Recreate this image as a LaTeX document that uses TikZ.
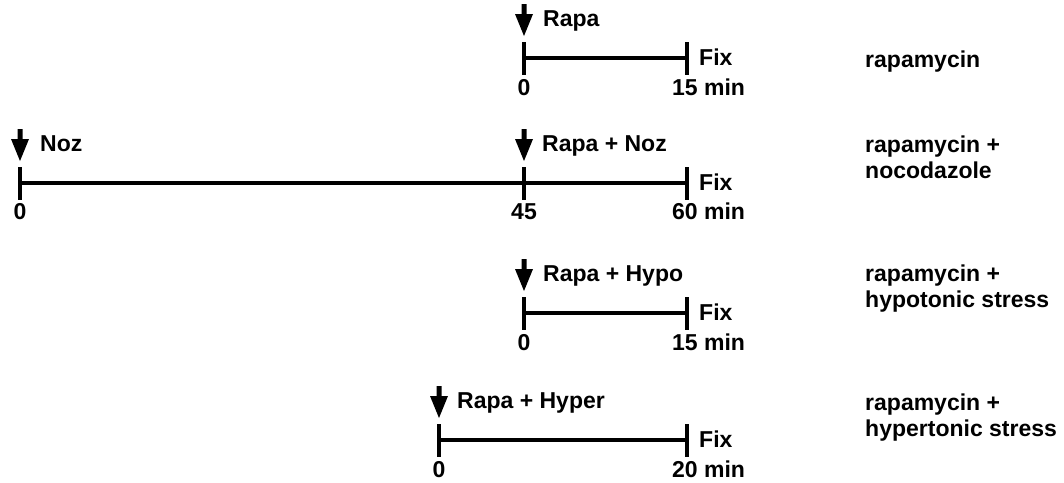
\documentclass[tikz,border=0pt]{standalone}
\usepackage{fontspec}
\setmainfont{Liberation Sans}
\usetikzlibrary{calc}
\begin{document}
\begin{tikzpicture}[x=1pt,y=-1pt,
  lbl/.style={font=\bfseries\fontsize{23}{26}\selectfont, inner sep=0pt, anchor=base west},
  num/.style={lbl, anchor=base},
  axis/.style={line width=3.5pt},
  tickmark/.style={line width=4pt},
  dropshape/.style={fill=black}
]
\useasboundingbox (0,0) rectangle (1064,482);

% downward addition arrow whose tip sits 23 units above the given axis point
\newcommand\addarrow[1]{%
  \fill ($(#1)+(-2.5,-54)$) -- ($(#1)+(2.5,-54)$) -- ($(#1)+(2.5,-44)$)
    -- ($(#1)+(9,-44)$) -- ($(#1)+(0,-22)$) -- ($(#1)+(-9,-44)$)
    -- ($(#1)+(-2.5,-44)$) -- cycle;}

% row 1: rapamycin
\coordinate (a1) at (524,58);
\coordinate (b1) at (687,58);
\draw[axis] (a1) -- (b1);
\foreach \p in {a1,b1} \draw[tickmark] ($(\p)+(0,-16)$) -- ($(\p)+(0,17)$);
\addarrow{a1}
\node[lbl] (d1) at (543,26) {Rapa};
\node[lbl] (f1) at (699,65) {Fix};
\node[num] (s1) at (524,95) {0};
\node[lbl] (e1) at (672,95) {15 min};
\node[lbl] (c1) at (865,67) {rapamycin};

% row 2: rapamycin + nocodazole
\coordinate (n2) at (20,183);
\coordinate (a2) at (524,183);
\coordinate (b2) at (687,183);
\draw[axis] (n2) -- (a2) -- (b2);
\foreach \p in {n2,a2,b2} \draw[tickmark] ($(\p)+(0,-16)$) -- ($(\p)+(0,17)$);
\addarrow{n2}
\addarrow{a2}
\node[lbl] (dn2) at (40,151) {Noz};
\node[lbl] (d2) at (542,151) {Rapa + Noz};
\node[lbl] (f2) at (699,190) {Fix};
\node[num] (sn2) at (20,219) {0};
\node[num] (s2) at (524,219) {45};
\node[lbl] (e2) at (672,219) {60 min};
\node[lbl, align=left, anchor=base west] (c2) at (865,178) {rapamycin +\\nocodazole};

% row 3: rapamycin + hypotonic stress
\coordinate (a3) at (524,313);
\coordinate (b3) at (687,313);
\draw[axis] (a3) -- (b3);
\foreach \p in {a3,b3} \draw[tickmark] ($(\p)+(0,-16)$) -- ($(\p)+(0,17)$);
\addarrow{a3}
\node[lbl] (d3) at (543,281) {Rapa + Hypo};
\node[lbl] (f3) at (699,320) {Fix};
\node[num] (s3) at (524,350) {0};
\node[lbl] (e3) at (672,350) {15 min};
\node[lbl, align=left, anchor=base west] (c3) at (865,307) {rapamycin +\\hypotonic stress};

% row 4: rapamycin + hypertonic stress
\coordinate (a4) at (439,440);
\coordinate (b4) at (687,440);
\draw[axis] (a4) -- (b4);
\foreach \p in {a4,b4} \draw[tickmark] ($(\p)+(0,-16)$) -- ($(\p)+(0,17)$);
\addarrow{a4}
\node[lbl] (d4) at (457,408) {Rapa + Hyper};
\node[lbl] (f4) at (699,447) {Fix};
\node[num] (s4) at (439,477) {0};
\node[lbl] (e4) at (672,477) {20 min};
\node[lbl, align=left, anchor=base west] (c4) at (865,436) {rapamycin +\\hypertonic stress};
\end{tikzpicture}
\end{document}
